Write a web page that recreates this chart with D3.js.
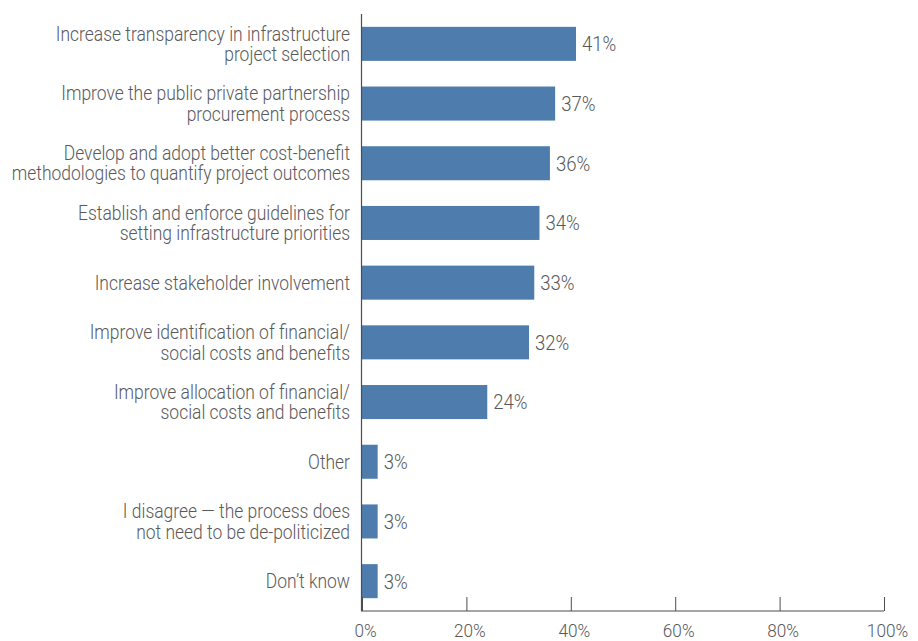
<!DOCTYPE html>
<html>
<head>
<meta charset="utf-8">
<script src="https://cdn.jsdelivr.net/npm/d3@7"></script>
<style>
  html, body { margin: 0; padding: 0; background: #fff; }
  svg { display: block; }
  text { font-family: "Roboto", sans-serif; font-weight: 300; fill: #58595b; }
</style>
</head>
<body>
<svg id="chart" width="918" height="641"></svg>
<script>
// Survey responses: how to de-politicize infrastructure project selection
const categories = [
  ["Increase transparency in infrastructure", "project selection"],
  ["Improve the public private partnership", "procurement process"],
  ["Develop and adopt better cost-benefit", "methodologies to quantify project outcomes"],
  ["Establish and enforce guidelines for", "setting infrastructure priorities"],
  ["Increase stakeholder involvement"],
  ["Improve identification of financial/", "social costs and benefits"],
  ["Improve allocation of financial/", "social costs and benefits"],
  ["Other"],
  ["I disagree \u2014 the process does", "not need to be de-politicized"],
  ["Don\u2019t know"]
];
const values = [41, 37, 36, 34, 33, 32, 24, 3, 3, 3];
const tickValues = [0, 20, 40, 60, 80, 100];

const svg = d3.select("#chart");
const plotLeft = 362, plotRight = 884, plotTop = 14, plotBottom = 611;
const narrow = 0.905;         // horizontal squeeze for a condensed look
const labelSize = 19.3, valueSize = 20.5, tickSize = 19, lineGap = 20.5;

const x = d3.scaleLinear().domain([0, 100]).range([plotLeft, plotRight]);
const y = d3.scaleBand().domain(d3.range(categories.length)).range([plotTop, plotBottom]).paddingInner(0.43).paddingOuter(0.215);
const yc = i => y(i) + y.bandwidth() / 2;

// Bars
svg.append("g").selectAll("rect")
  .data(values)
  .join("rect")
  .attr("x", x(0))
  .attr("y", (d, i) => y(i))
  .attr("width", d => x(d) - x(0))
  .attr("height", y.bandwidth())
  .attr("fill", "#4e7dad");

// Value labels
svg.append("g").selectAll("text")
  .data(values)
  .join("text")
  .attr("transform", (d, i) => `translate(${x(d) + 6},${yc(i)}) scale(${narrow},1)`)
  .attr("dy", "0.36em")
  .attr("font-size", valueSize)
  .text(d => d + "%");

// Category labels, right-aligned against the baseline
const labels = svg.append("g").selectAll("text")
  .data(categories)
  .join("text")
  .attr("text-anchor", "end")
  .attr("font-size", labelSize)
  .attr("transform", (d, i) => `translate(${plotLeft - 12},${yc(i)}) scale(${narrow},1)`);
labels.selectAll("tspan")
  .data(d => d.map((t, j) => ({ t, j, n: d.length })))
  .join("tspan")
  .attr("x", 0)
  .attr("dy", p => p.j === 0 ? (0.36 * labelSize - (p.n - 1) * lineGap / 2) : lineGap)
  .text(p => p.t);

// Vertical baseline
svg.append("line")
  .attr("x1", x(0) - 0.5).attr("x2", x(0) - 0.5)
  .attr("y1", plotTop).attr("y2", plotBottom)
  .attr("stroke", "#4d4d4d").attr("stroke-width", 1.2);

// Bottom axis with upward ticks
const axis = d3.axisBottom(x)
  .tickValues(tickValues)
  .tickSize(-14)
  .tickFormat(d => d + "%");
const gx = svg.append("g")
  .attr("transform", `translate(0,${plotBottom})`)
  .call(axis);
gx.select(".domain").attr("stroke", "#4d4d4d").attr("d", `M${x(0) - 1},0H${x(100)}`);
gx.selectAll(".tick line").attr("stroke", "#4d4d4d");
gx.selectAll(".tick text")
  .attr("y", null)
  .attr("dy", null)
  .attr("transform", `translate(3,26) scale(${narrow},1)`)
  .attr("font-size", tickSize)
  .attr("font-family", null)
  .style("fill", "#58595b");
</script>
</body>
</html>
